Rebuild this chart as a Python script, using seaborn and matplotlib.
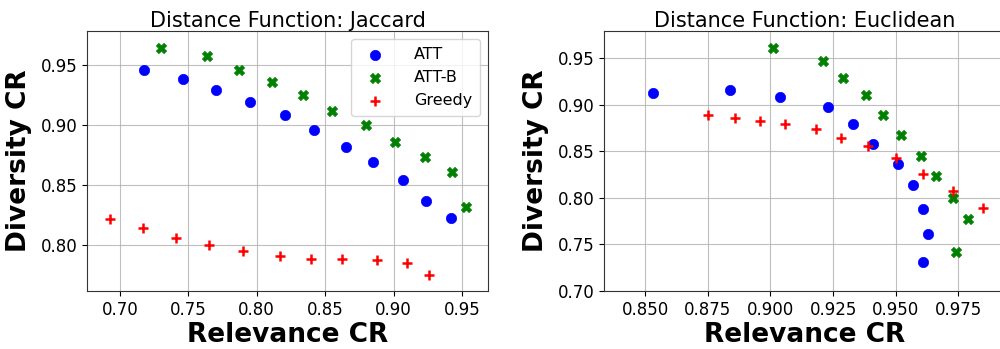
import matplotlib
matplotlib.use('Agg')
import matplotlib.pyplot as plt
import seaborn as sns
import pandas as pd

# Jaccard panel
jac_att_x = [0.718, 0.746, 0.770, 0.795, 0.821, 0.842, 0.865, 0.885, 0.907, 0.924, 0.942]
jac_att_y = [0.946, 0.938, 0.929, 0.919, 0.908, 0.896, 0.882, 0.869, 0.854, 0.837, 0.823]
jac_attb_x = [0.730, 0.764, 0.787, 0.811, 0.834, 0.855, 0.880, 0.901, 0.923, 0.943, 0.953]
jac_attb_y = [0.964, 0.957, 0.946, 0.936, 0.925, 0.912, 0.900, 0.886, 0.873, 0.861, 0.832]
jac_greedy_x = [0.693, 0.717, 0.741, 0.765, 0.790, 0.817, 0.840, 0.862, 0.888, 0.910, 0.926]
jac_greedy_y = [0.822, 0.814, 0.806, 0.800, 0.795, 0.791, 0.789, 0.789, 0.788, 0.785, 0.775]

# Euclidean panel
euc_att_x = [0.853, 0.884, 0.904, 0.923, 0.933, 0.941, 0.951, 0.957, 0.961, 0.963, 0.961]
euc_att_y = [0.913, 0.916, 0.908, 0.897, 0.879, 0.858, 0.836, 0.814, 0.788, 0.761, 0.731]
euc_attb_x = [0.901, 0.921, 0.929, 0.938, 0.945, 0.952, 0.960, 0.966, 0.973, 0.979, 0.974]
euc_attb_y = [0.961, 0.947, 0.929, 0.910, 0.889, 0.867, 0.845, 0.823, 0.800, 0.777, 0.742]
euc_greedy_x = [0.875, 0.886, 0.896, 0.906, 0.918, 0.928, 0.939, 0.950, 0.961, 0.973, 0.985]
euc_greedy_y = [0.889, 0.886, 0.882, 0.879, 0.874, 0.864, 0.856, 0.843, 0.826, 0.807, 0.789]

methods = ['ATT', 'ATT-B', 'Greedy']
colors = {'ATT': 'blue', 'ATT-B': 'green', 'Greedy': 'red'}
markers = {'ATT': 'o', 'ATT-B': 'X', 'Greedy': 'P'}


def make_df(xs, ys):
    frames = []
    for m, x, y in zip(methods, xs, ys):
        frames.append(pd.DataFrame({'rel': x, 'div': y, 'method': m}))
    return pd.concat(frames, ignore_index=True)


jac = make_df([jac_att_x, jac_attb_x, jac_greedy_x], [jac_att_y, jac_attb_y, jac_greedy_y])
euc = make_df([euc_att_x, euc_attb_x, euc_greedy_x], [euc_att_y, euc_attb_y, euc_greedy_y])

sns.set_style('ticks')
plt.rcParams['font.family'] = ['DejaVu Sans']
plt.rcParams['text.color'] = 'black'
plt.rcParams['axes.labelcolor'] = 'black'
plt.rcParams['xtick.color'] = 'black'
plt.rcParams['ytick.color'] = 'black'

fig = plt.figure(figsize=(10, 3.49), dpi=100)
ax1 = fig.add_axes([0.087, 0.166, 0.401, 0.745])
ax2 = fig.add_axes([0.604, 0.166, 0.401, 0.745])

for ax, df, title in [(ax1, jac, 'Distance Function: Jaccard'),
                      (ax2, euc, 'Distance Function: Euclidean')]:
    for m in methods:
        sub = df[df.method == m]
        if m == 'Greedy':
            ax.scatter(sub.rel, sub['div'], marker='+', s=50, c=colors[m],
                       linewidths=1.8, label=m, zorder=3)
        else:
            sns.scatterplot(x=sub.rel, y=sub['div'], marker=markers[m], s=55,
                            color=colors[m], edgecolor=colors[m], linewidth=0.5,
                            label=m, ax=ax, zorder=3)
    ax.grid(True, color='#b0b0b0', linewidth=0.8, alpha=0.8)
    ax.set_axisbelow(True)
    ax.set_title(title, fontsize=15, pad=3)
    ax.set_xlabel('Relevance CR', fontsize=19, fontweight='bold', labelpad=2)
    ax.set_ylabel('Diversity CR', fontsize=19, fontweight='bold', labelpad=6)
    ax.tick_params(labelsize=12)
    for sp in ax.spines.values():
        sp.set_color('#333333')

ax1.set_xlim(0.676, 0.969)
ax1.set_ylim(0.762, 0.978)
ax1.set_xticks([0.70, 0.75, 0.80, 0.85, 0.90, 0.95])
ax1.set_yticks([0.80, 0.85, 0.90, 0.95])
ax1.legend(loc='upper right', fontsize=11.5, handletextpad=1.4, borderpad=0.5)

ax2.set_xlim(0.8336, 0.9936)
ax2.set_ylim(0.70, 0.979)
ax2.set_xticks([0.850, 0.875, 0.900, 0.925, 0.950, 0.975])
ax2.set_xticklabels(['0.850', '0.875', '0.900', '0.925', '0.950', '0.975'])
ax2.set_yticks([0.70, 0.75, 0.80, 0.85, 0.90, 0.95])
ax2.legend_.remove()

fig.savefig('out.png', dpi=100)
